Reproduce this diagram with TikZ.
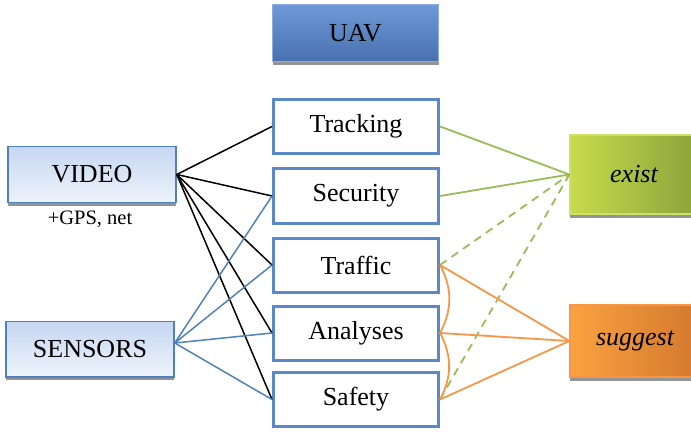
\documentclass[tikz,border=0pt]{standalone}
\usepackage{fontspec}
\setmainfont{Liberation Serif}
\usetikzlibrary{shadows}
\definecolor{boxblue}{HTML}{5B88C6}
\definecolor{lineblue}{HTML}{4F81BD}
\definecolor{uavtop}{HTML}{6F99D6}
\definecolor{uavbot}{HTML}{4870B0}
\definecolor{srctop}{HTML}{C6D7F1}
\definecolor{srcbot}{HTML}{EEF3FB}
\definecolor{exleft}{HTML}{C6DB4C}
\definecolor{exright}{HTML}{8DA23A}
\definecolor{sgleft}{HTML}{FAA240}
\definecolor{sgright}{HTML}{D2782E}
\definecolor{greenline}{HTML}{9BBB59}
\definecolor{orangeline}{HTML}{F79646}
\begin{document}
\begin{tikzpicture}[x=1pt,y=-1pt,
  bigfont/.style={font=\fontsize{26}{30}\selectfont},
  midbox/.style={draw=boxblue, line width=3pt, fill=white, minimum width=165pt, minimum height=54pt, inner sep=0pt, bigfont},
  shad/.style={drop shadow={shadow xshift=0pt, shadow yshift=-3.5pt, fill=black!42, opacity=1}},
  srcbox/.style={draw=lineblue, line width=1.5pt, top color=srctop, bottom color=srcbot, minimum width=168pt, minimum height=55.5pt, inner sep=0pt, bigfont, shad},
  blk/.style={black, line width=1.5pt},
  blu/.style={lineblue, line width=1.5pt},
  grn/.style={greenline, line width=1.8pt},
  grndash/.style={greenline, line width=1.8pt, dash pattern=on 8pt off 6pt},
  org/.style={orangeline, line width=1.8pt}]
\useasboundingbox (0,0) rectangle (691,433);

\node[draw=uavtop!80!white, line width=1pt, top color=uavtop, bottom color=uavbot, minimum width=166pt, minimum height=57pt, inner sep=0pt, bigfont, shad] (uav) at (355.5,33) {UAV};

\node[midbox] (tr) at (356,126.5) {Tracking};
\node[midbox] (se) at (356,196) {Security};
\node[midbox] (tf) at (356,265) {Traffic};
\node[midbox] (an) at (356,333) {Analyses};
\node[midbox] (sa) at (356,399.5) {Safety};

\node[srcbox] (vid) at (92,174.5) {VIDEO};
\node[font=\fontsize{20.5}{24}\selectfont, inner sep=0pt] (gps) at (90,219) {+GPS, net};
\node[srcbox] (sen) at (90,349) {SENSORS};
\coordinate (sp) at ([yshift=6pt]sen.east);

\node[draw=exleft!85!white, line width=1.2pt, left color=exleft, right color=exright, minimum width=128pt, minimum height=79pt, inner sep=0pt, bigfont, shad] (ex) at (634,174.5) {\itshape exist};
\node[draw=orangeline, line width=1.2pt, left color=sgleft, right color=sgright, minimum width=130pt, minimum height=72pt, inner sep=0pt, bigfont, shad] (sg) at (635,341) {\itshape suggest};

% black connectors from VIDEO
\foreach \t in {tr,se,tf,an,sa} \draw[blk] (vid.east) -- (\t.west);
% blue connectors from SENSORS
\foreach \t in {se,tf,an,sa} \draw[blu] (sp) -- (\t.west);

% green
\draw[grn] (tr.east) -- (ex.west);
\draw[grn] (se.east) -- (ex.west);
\draw[grndash] (tf.east) -- (ex.west);
\draw[grndash] (sa.east) -- (ex.west);

% orange
\foreach \t in {tf,an,sa} \draw[org] (\t.east) -- (sg.west);
\draw[org] (tf.east) to[bend left=28] (an.east);
\draw[org] (an.east) to[bend left=28] (sa.east);
\end{tikzpicture}
\end{document}
